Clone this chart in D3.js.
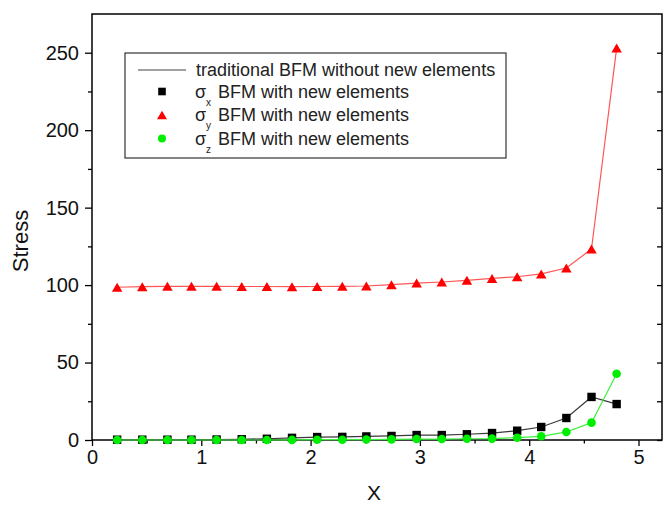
<!DOCTYPE html>
<html>
<head>
<meta charset="utf-8">
<script src="https://cdn.jsdelivr.net/npm/d3@7"></script>
<style>
  html, body { margin: 0; padding: 0; background: #fff; }
  svg { display: block; font-family: "Liberation Sans", Arial, sans-serif; }
</style>
</head>
<body>
<svg id="chart" width="665" height="505"></svg>
<script>
// Position along the beam
const xValues = [0.23, 0.46, 0.69, 0.91, 1.14, 1.37, 1.60, 1.83, 2.06, 2.29, 2.51,
                 2.74, 2.97, 3.20, 3.43, 3.66, 3.89, 4.11, 4.34, 4.57, 4.80];
// Stress components
const sigmaX = [0.2, 0.2, 0.2, 0.2, 0.3, 0.5, 0.8, 1.4, 1.9, 2.0, 2.3,
                2.6, 3.2, 3.2, 3.7, 4.5, 6.0, 8.4, 14.2, 27.8, 23.2];
const sigmaY = [98.6, 99.0, 99.2, 99.2, 99.2, 99.1, 99.1, 99.0, 99.1, 99.2, 99.4,
                100.3, 101.3, 102.0, 103.1, 104.3, 105.4, 107.2, 111.0, 123.3, 253.0];
const sigmaZ = [0, 0, 0, 0, 0, 0, 0, 0.1, 0.2, 0.2, 0.3,
                0.4, 0.6, 0.6, 0.8, 0.9, 1.5, 2.4, 5.2, 11.2, 42.8];

const xMajorTicks = [0, 1, 2, 3, 4, 5];
const xMinorTicks = [0.5, 1.5, 2.5, 3.5, 4.5];
const yMajorTicks = [0, 50, 100, 150, 200, 250];
const yMinorTicks = [25, 75, 125, 175, 225];

const legendLabels = [
  "traditional BFM without new elements",
  "BFM with new elements",
  "BFM with new elements",
  "BFM with new elements"
];
const legendSubs = ["x", "y", "z"];

const svg = d3.select("#chart");
const plotLeft = 92, plotRight = 662, plotTop = 14, plotBottom = 440;

const x = d3.scaleLinear().domain([0, 5.215]).range([plotLeft, plotRight]);
const y = d3.scaleLinear().domain([0, 275]).range([plotBottom, plotTop]);

// Axes: outward ticks on bottom/left, inward on the right
const fmt = d3.format("d");
svg.append("g").attr("transform", `translate(0,${plotBottom})`)
  .call(d3.axisBottom(x).tickValues(xMajorTicks).tickFormat(fmt).tickSize(6).tickSizeOuter(0).tickPadding(4))
  .call(g => g.select(".domain").remove())
  .call(g => g.selectAll("line").attr("stroke", "#000").attr("stroke-width", 1.3))
  .call(g => g.selectAll("text").attr("font-size", 20).attr("fill", "#111"));
svg.append("g").attr("transform", `translate(0,${plotBottom})`)
  .call(d3.axisBottom(x).tickValues(xMinorTicks).tickFormat("").tickSize(3.5).tickSizeOuter(0))
  .call(g => g.select(".domain").remove())
  .call(g => g.selectAll("line").attr("stroke", "#000").attr("stroke-width", 1.3));

svg.append("g").attr("transform", `translate(${plotLeft},0)`)
  .call(d3.axisLeft(y).tickValues(yMajorTicks).tickFormat(fmt).tickSize(7).tickSizeOuter(0).tickPadding(6))
  .call(g => g.select(".domain").remove())
  .call(g => g.selectAll("line").attr("stroke", "#000").attr("stroke-width", 1.3))
  .call(g => g.selectAll("text").attr("font-size", 20).attr("fill", "#111"));
svg.append("g").attr("transform", `translate(${plotLeft},0)`)
  .call(d3.axisLeft(y).tickValues(yMinorTicks).tickFormat("").tickSize(4).tickSizeOuter(0))
  .call(g => g.select(".domain").remove())
  .call(g => g.selectAll("line").attr("stroke", "#000").attr("stroke-width", 1.3));

svg.append("g").attr("transform", `translate(${plotRight},0)`)
  .call(d3.axisLeft(y).tickValues(yMajorTicks.concat(yMinorTicks)).tickFormat("").tickSize(5).tickSizeOuter(0))
  .call(g => g.select(".domain").remove())
  .call(g => g.selectAll("line").attr("stroke", "#000").attr("stroke-width", 1.3));

// Frame
svg.append("rect")
  .attr("x", plotLeft).attr("y", plotTop)
  .attr("width", plotRight - plotLeft).attr("height", plotBottom - plotTop)
  .attr("fill", "none").attr("stroke", "#000").attr("stroke-width", 1.5);

// Axis titles
svg.append("text").attr("x", 374).attr("y", 500)
  .attr("text-anchor", "middle").attr("font-size", 21).attr("fill", "#111").text("X");
svg.append("text")
  .attr("transform", "translate(28,241) rotate(-90)")
  .attr("text-anchor", "middle").attr("font-size", 22).attr("fill", "#111").text("Stress");

// Marker shapes
function triPath(cx, cy, w, h) {
  return `M${cx},${cy - h / 2}L${cx + w / 2},${cy + h / 2}L${cx - w / 2},${cy + h / 2}Z`;
}

const series = [
  { values: sigmaX, line: "#3a3a3a", fill: "#000", shape: "square" },
  { values: sigmaZ, line: "#3cf03c", fill: "#00ee00", shape: "circle" },
  { values: sigmaY, line: "#ff5555", fill: "#ff0000", shape: "triangle" }
];

const line = d3.line();
series.forEach(s => {
  const pts = xValues.map((xv, i) => [x(xv), y(s.values[i])]);
  svg.append("path").attr("d", line(pts))
    .attr("fill", "none").attr("stroke", s.line).attr("stroke-width", 1.2);
  const g = svg.append("g");
  pts.forEach(([px, py]) => {
    if (s.shape === "square") {
      g.append("rect").attr("x", px - 4.2).attr("y", py - 4.2)
        .attr("width", 8.4).attr("height", 8.4).attr("fill", s.fill);
    } else if (s.shape === "circle") {
      g.append("circle").attr("cx", px).attr("cy", py).attr("r", 4.3).attr("fill", s.fill);
    } else {
      g.append("path").attr("d", triPath(px, py, 10.5, 9)).attr("fill", s.fill);
    }
  });
});

// Legend
const lg = svg.append("g");
lg.append("rect").attr("x", 125).attr("y", 53).attr("width", 381).attr("height", 105)
  .attr("fill", "#fff").attr("stroke", "#333").attr("stroke-width", 1.2);
lg.append("line").attr("x1", 138).attr("x2", 186).attr("y1", 70).attr("y2", 70)
  .attr("stroke", "#444").attr("stroke-width", 1.2);
lg.append("text").attr("x", 196).attr("y", 76).attr("font-size", 18).attr("fill", "#222")
  .text(legendLabels[0]);

const rowY = [91.5, 115, 138.5];
lg.append("rect").attr("x", 162 - 3.8).attr("y", rowY[0] - 3.8).attr("width", 7.6).attr("height", 7.6).attr("fill", "#000");
lg.append("path").attr("d", triPath(162, rowY[1], 10, 8.5)).attr("fill", "#ff0000");
lg.append("circle").attr("cx", 162).attr("cy", rowY[2]).attr("r", 4).attr("fill", "#00ee00");

rowY.forEach((ry, i) => {
  const base = ry + 6;
  lg.append("text").attr("x", 195).attr("y", base).attr("font-size", 18).attr("fill", "#222").text("σ");
  lg.append("text").attr("x", 206).attr("y", base + 8).attr("font-size", 10).attr("fill", "#222").text(legendSubs[i]);
  lg.append("text").attr("x", 218).attr("y", base).attr("font-size", 18).attr("fill", "#222").text(legendLabels[i + 1]);
});
</script>
</body>
</html>
